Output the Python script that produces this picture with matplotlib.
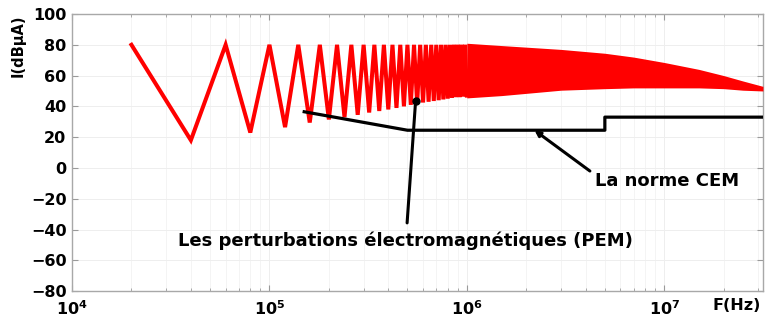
import matplotlib
matplotlib.use("Agg")
import matplotlib.pyplot as plt
from matplotlib.ticker import FixedLocator, NullFormatter

# ---- data ----
peak_khz = [20, 60, 100, 140, 180, 220, 260, 300, 340, 380, 420, 460, 500,
            540, 580, 620, 660, 700, 740, 780, 820, 860, 900, 940, 980]
peak_db = [80, 80, 80, 80, 80, 80, 80, 80, 80, 80, 80, 80, 80,
           80, 80, 80, 80, 80, 80, 80, 80, 80, 80, 80, 80]
trough_khz = [40, 80, 120, 160, 200, 240, 280, 320, 360, 400, 440, 480, 520,
              560, 600, 640, 680, 720, 760, 800, 840, 880, 920, 960, 1000]
trough_db = [18, 23, 26.5, 29.5, 31.5, 33, 34.5, 36, 37, 38, 39, 40, 41,
             42, 42.5, 43, 43.5, 44, 44.5, 45, 45.5, 46, 46, 46.5, 47]

band_hz = [1e6, 1.5e6, 3e6, 5e6, 7e6, 1e7, 1.5e7, 2e7, 2.5e7, 3.16e7]
band_top = [81, 79.5, 77, 74.5, 72, 68.5, 64, 60, 56.5, 53]
band_bot = [45.5, 47, 50.5, 51.5, 52, 52, 52, 51.5, 50.5, 50]

cem_hz = [1.5e5, 5e5, 5e6, 5e6, 3.16e7]
cem_db = [36.5, 24.5, 24.5, 33, 33]

pem_dot = (5.5e5, 43.5)
x_ticks = [1e4, 1e5, 1e6, 1e7]
x_ticklabels = [r"$\mathbf{10^{4}}$", r"$\mathbf{10^{5}}$", r"$\mathbf{10^{6}}$", r"$\mathbf{10^{7}}$"]
y_ticks = [-80, -60, -40, -20, 0, 20, 40, 60, 80, 100]

# ---- figure ----
plt.rcParams['font.family'] = ['DejaVu Sans']
plt.rcParams['mathtext.fontset'] = 'dejavusans'
fig = plt.figure(figsize=(7.66, 3.22), dpi=100)
ax = fig.add_axes([0.094, 0.096, 0.902, 0.8605])

# zigzag spectrum
zx, zy = [], []
for pf, pd, tf, td in zip(peak_khz, peak_db, trough_khz, trough_db):
    zx += [pf * 1e3, tf * 1e3]
    zy += [pd, td]
ax.plot(zx, zy, color='#ff0000', lw=2.9, solid_joinstyle='miter', zorder=3)
ax.fill_between(band_hz, band_bot, band_top, color='#ff0000', lw=0, zorder=3)

# CEM norm
ax.plot(cem_hz, cem_db, color='black', lw=2.3, zorder=4)

ax.set_xscale('log')
ax.set_xlim(1e4, 3.16e7)
ax.set_ylim(-80, 100)

ax.xaxis.set_major_locator(FixedLocator(x_ticks))
ax.set_xticklabels(x_ticklabels)
minors = [m * 10 ** e for e in range(4, 8) for m in range(2, 10) if m * 10 ** e < 3.16e7]
ax.xaxis.set_minor_locator(FixedLocator(minors))
ax.xaxis.set_minor_formatter(NullFormatter())
ax.set_yticks(y_ticks)
ax.set_yticklabels([str(v).replace('-', '\u2212') for v in y_ticks])

for lab in ax.get_yticklabels():
    lab.set_fontweight('bold')
ax.tick_params(axis='both', which='both', direction='in', top=True, right=True,
               colors='#9a9a9a', labelcolor='black', labelsize=11.5)
ax.tick_params(axis='both', which='major', length=4, pad=4)
ax.tick_params(axis='x', which='major', pad=6)
ax.tick_params(axis='both', which='minor', length=2.5)

ax.grid(True, which='major', color='#eeeeee', lw=0.7)
ax.grid(True, which='minor', axis='x', color='#f2f2f2', lw=0.6)
for s in ax.spines.values():
    s.set_color('#a8a8a8')
    s.set_linewidth(1.0)

# annotations
ax.plot([pem_dot[0]], [pem_dot[1]], 'o', color='black', ms=5, zorder=6)
ax.annotate("", xy=pem_dot, xytext=(4.97e5, -37.5),
            arrowprops=dict(arrowstyle='-', color='black', lw=2.2), zorder=5)
ax.text(4.91e5, -47, "Les perturbations électromagnétiques (PEM)", ha='center',
        va='center', fontsize=13, fontweight='bold', zorder=6)

ax.annotate("", xy=(2.2e6, 24.5), xytext=(4.2e6, -2),
            arrowprops=dict(arrowstyle='-|>', color='black', lw=2.2,
                            mutation_scale=8, shrinkA=0, shrinkB=0), zorder=5)
ax.text(1.03e7, -8.5, "La norme CEM", ha='center', va='center',
        fontsize=13, fontweight='bold', zorder=6)

fig.text(0.024, 1 - 46 / 322, "I(dBµA)", rotation=90, ha='center', va='center',
         fontsize=10.5, fontweight='bold')
fig.text(737 / 766, 1 - 306 / 322, "F(Hz)", ha='center', va='center',
         fontsize=11.5, fontweight='bold')

fig.savefig("out.png", dpi=100)
